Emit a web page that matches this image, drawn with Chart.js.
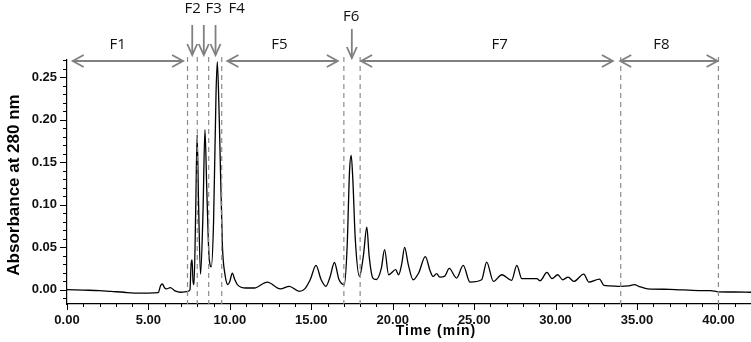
<!DOCTYPE html>
<html>
<head>
<meta charset="utf-8">
<script src="https://cdn.jsdelivr.net/npm/chart.js@4/dist/chart.umd.min.js"></script>
<style>
  html, body { margin: 0; padding: 0; background: #fff; }
  #wrap { width: 751px; height: 342px; }
</style>
</head>
<body>
<div id="wrap"><canvas id="chrom" width="751" height="342"></canvas></div>
<script>
// elution profile
const times = [
  0.0, 1.0, 2.0, 2.7, 3.5, 4.1, 5.0, 5.6, 5.75, 5.85, 6.0, 6.1, 6.35, 6.6, 7.0, 7.4,
  7.55, 7.62, 7.68, 7.74, 7.8, 7.9, 7.99, 8.08, 8.2, 8.35, 8.47, 8.58, 8.72, 8.86,
  9.0, 9.15, 9.23, 9.35, 9.54, 9.7, 9.88, 10.0, 10.15, 10.3, 10.46, 11.0, 11.5,
  12.3, 13.1, 13.65, 14.26, 14.6, 14.94, 15.29, 15.6, 15.9, 16.15, 16.42, 16.7,
  17.03, 17.2, 17.35, 17.45, 17.55, 17.7, 17.96, 18.2, 18.41, 18.55, 18.78, 19.0,
  19.3, 19.5, 19.75, 20.18, 20.36, 20.55, 20.73, 20.95, 21.25, 21.6, 22.0, 22.3,
  22.48, 22.69, 22.89, 23.2, 23.47, 23.92, 24.33, 24.74, 25.46, 25.77, 26.18, 26.7,
  27.3, 27.62, 27.93, 28.85, 29.05, 29.47, 29.78, 30.13, 30.44, 30.77, 31.12, 31.73,
  32.04, 32.7, 32.97, 33.3, 34.0, 34.45, 34.85, 35.1, 35.64, 37.0, 38.8, 39.5, 40.0,
  41.0, 42.0
];
const absorbance = [
  0.000, -0.0005, -0.001, -0.002, -0.003, -0.004, -0.004, -0.0035, 0.005, 0.0067, 0.002, 0.001, 0.0025, -0.001, -0.003, -0.002,
  0.000, 0.030, 0.035, 0.010, 0.006, 0.090, 0.182, 0.100, 0.018, 0.090, 0.188, 0.120, 0.040, 0.027,
  0.080, 0.230, 0.268, 0.200, 0.053, 0.018, 0.006, 0.010, 0.0195, 0.012, 0.006, 0.002, 0.002,
  0.009, 0.001, 0.004, -0.002, 0.001, 0.012, 0.0285, 0.012, 0.004, 0.015, 0.032, 0.012,
  0.006, 0.050, 0.140, 0.158, 0.130, 0.060, 0.0156, 0.040, 0.0735, 0.040, 0.0137, 0.012,
  0.025, 0.047, 0.0176, 0.0235, 0.0176, 0.030, 0.0497, 0.030, 0.0117, 0.020, 0.039, 0.022,
  0.0156, 0.0188, 0.0149, 0.016, 0.025, 0.0137, 0.0285, 0.009, 0.0117, 0.0325, 0.0098, 0.0176,
  0.011, 0.0285, 0.013, 0.013, 0.0106, 0.0203, 0.013, 0.0176, 0.0117, 0.0149, 0.0098, 0.0184,
  0.009, 0.0125, 0.005, 0.0045, 0.004, 0.0045, 0.006, 0.004, 0.001, 0.0005, -0.001, -0.001, -0.0025,
  -0.0027, -0.003
];

// axis ticks
const xTicks = [0, 5, 10, 15, 20, 25, 30, 35, 40];
const yTicks = [0, 0.05, 0.10, 0.15, 0.20, 0.25];

// fraction cut points (dashed lines) and ranges
const cutTimes = [7.4, 8.0, 8.7, 9.5, 17.0, 18.0, 34.0, 40.0];
const rangeNames = ['F1', 'F5', 'F7', 'F8'];
const rangeStart = [0.35, 9.85, 18.06, 33.97];
const rangeEnd = [7.13, 16.63, 33.52, 39.95];
const rangeLabelAt = [3.11, 13.04, 26.57, 36.5];
const pointNames = ['F2', 'F3', 'F4', 'F6'];
const pointAt = [7.69, 8.40, 9.12, 17.49];
const pointLabelAt = [7.71, 9.0, 10.42, 17.45];

const GREY = '#808080';

function line(ctx, x1, y1, x2, y2) {
  ctx.beginPath(); ctx.moveTo(x1, y1); ctx.lineTo(x2, y2); ctx.stroke();
}

const overlay = {
  id: 'overlay',
  afterDraw(chart) {
    const { ctx, chartArea: a, scales: { x, y } } = chart;
    ctx.save();

    // tick marks
    ctx.strokeStyle = '#000';
    ctx.lineWidth = 1;
    for (let t = 0; t <= x.max; t += 1) {
      const px = Math.round(x.getPixelForValue(t)) + 0.5;
      line(ctx, px, a.bottom, px, a.bottom + (t % 5 === 0 ? 6 : 3));
    }
    for (let i = Math.ceil(y.min * 100); i <= Math.floor(y.max * 100); i++) {
      const py = Math.round(y.getPixelForValue(i / 100)) + 0.5;
      line(ctx, a.left, py, a.left - (i % 5 === 0 ? 7 : 4), py);
    }

    // dashed cut lines
    ctx.strokeStyle = '#8c8c8c';
    ctx.lineWidth = 1.2;
    ctx.setLineDash([5, 4]);
    cutTimes.forEach(t => {
      const px = x.getPixelForValue(t);
      line(ctx, px, a.top - 3, px, a.bottom);
    });
    ctx.setLineDash([]);

    // range arrows
    ctx.strokeStyle = GREY;
    ctx.lineWidth = 1.8;
    const ay = a.top + 1;
    rangeNames.forEach((n, i) => {
      const x1 = x.getPixelForValue(rangeStart[i]);
      const x2 = x.getPixelForValue(rangeEnd[i]);
      line(ctx, x1, ay, x2, ay);
      ctx.beginPath();
      ctx.moveTo(x1 + 11, ay - 6); ctx.lineTo(x1, ay); ctx.lineTo(x1 + 11, ay + 6);
      ctx.moveTo(x2 - 11, ay - 6); ctx.lineTo(x2, ay); ctx.lineTo(x2 - 11, ay + 6);
      ctx.stroke();
    });

    // single-fraction arrows
    pointNames.forEach((n, i) => {
      const px = x.getPixelForValue(pointAt[i]);
      const top = n === 'F6' ? 29 : 25;
      const tip = n === 'F6' ? 58 : 55;
      line(ctx, px, top, px, tip);
      ctx.beginPath();
      ctx.moveTo(px - 5, tip - 11); ctx.lineTo(px, tip); ctx.lineTo(px + 5, tip - 11);
      ctx.stroke();
    });

    // fraction labels
    ctx.fillStyle = '#111';
    ctx.font = '15px "Open Sans", "Noto Sans", sans-serif';
    ctx.textAlign = 'center';
    ctx.textBaseline = 'middle';
    rangeNames.forEach((n, i) => ctx.fillText(n, x.getPixelForValue(rangeLabelAt[i]), 45));
    pointNames.forEach((n, i) => ctx.fillText(n, x.getPixelForValue(pointLabelAt[i]), n === 'F6' ? 17 : 9));

    // axis titles
    ctx.fillStyle = '#000';
    ctx.font = 'bold 14px "Liberation Sans", Arial, sans-serif';
    ctx.letterSpacing = '1px';
    ctx.fillText('Time (min)', 436, 331);
    ctx.letterSpacing = '0px';
    ctx.translate(14, 185);
    ctx.rotate(-Math.PI / 2);
    ctx.font = 'bold 17px "Liberation Sans Narrow", "Liberation Sans", Arial, sans-serif';
    ctx.fillText('Absorbance at 280 nm', 0, 0);

    ctx.restore();
  }
};

new Chart(document.getElementById('chrom'), {
  type: 'line',
  data: {
    datasets: [{
      data: times.map((t, i) => ({ x: t, y: absorbance[i] })),
      borderColor: '#000',
      borderWidth: 1.3,
      pointRadius: 0,
      fill: false,
      cubicInterpolationMode: 'monotone',
    }],
  },
  options: {
    responsive: false,
    animation: false,
    layout: { padding: { top: 60, right: 0, left: 0, bottom: 0 } },
    plugins: { legend: { display: false }, tooltip: { enabled: false } },
    scales: {
      x: {
        type: 'linear',
        min: 0,
        max: 42,
        afterBuildTicks: (s) => { s.ticks = xTicks.map(v => ({ value: v })); },
        afterFit: (s) => { s.height = 38; },
        grid: { display: false, drawTicks: false },
        border: { display: true, color: '#000', width: 1.2 },
        ticks: {
          padding: 9,
          color: '#111',
          maxRotation: 0,
          font: { family: '"Liberation Sans", Arial, sans-serif', size: 13, weight: 'bold' },
          callback: (v) => Number(v).toFixed(2),
        },
      },
      y: {
        min: -0.0168,
        max: 0.27,
        afterBuildTicks: (s) => { s.ticks = yTicks.map(v => ({ value: v })); },
        afterFit: (s) => { s.width = 67; },
        grid: { display: false, drawTicks: false },
        border: { display: true, color: '#000', width: 1.2 },
        ticks: {
          padding: 10,
          color: '#111',
          font: { family: '"Liberation Sans", Arial, sans-serif', size: 13, weight: 'bold' },
          callback: (v) => Number(v).toFixed(2),
        },
      },
    },
  },
  plugins: [overlay],
});
</script>
</body>
</html>
